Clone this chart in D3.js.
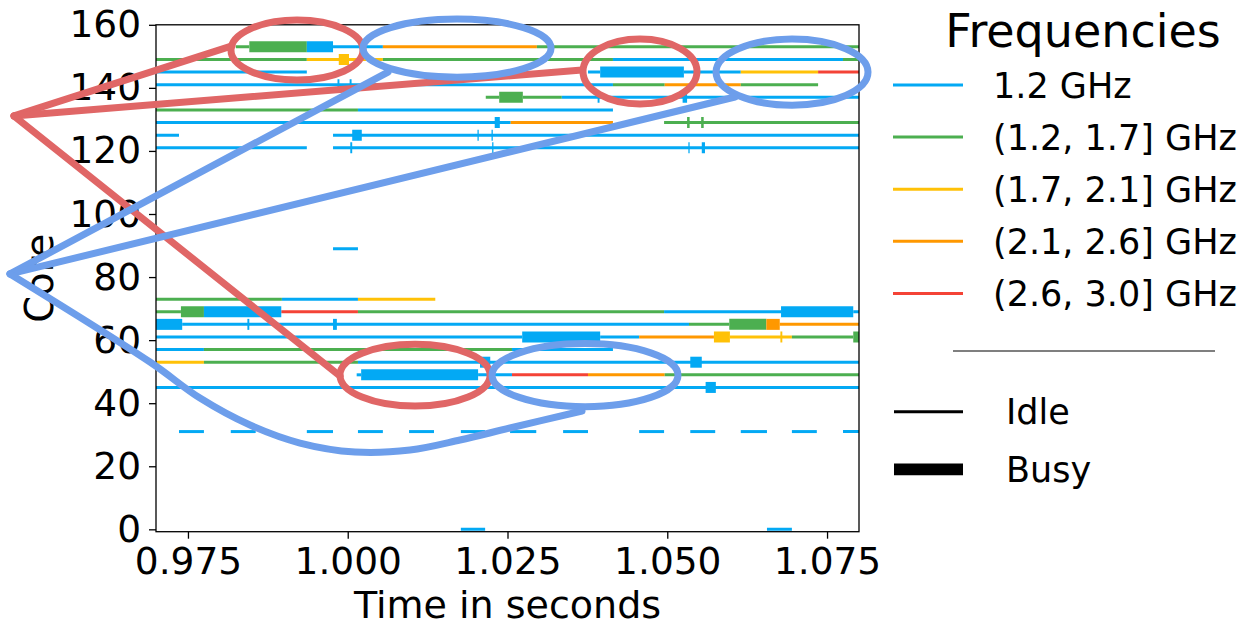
<!DOCTYPE html>
<html>
<head>
<meta charset="utf-8">
<script src="https://cdn.jsdelivr.net/npm/d3@7"></script>
<style>
  body { margin: 0; background: #fff; }
  svg { font-family: "DejaVu Sans", sans-serif; }
</style>
</head>
<body>
<svg id="chart" width="1243" height="626"></svg>
<script>
// frequency bands (legend order)
var bandLabels = ["1.2 GHz", "(1.2, 1.7] GHz", "(1.7, 2.1] GHz", "(2.1, 2.6] GHz", "(2.6, 3.0] GHz"];
var bandColors = ["#03a9f4", "#4caf50", "#ffc107", "#ff9800", "#f44336"];

var xTicks = [0.975, 1.000, 1.025, 1.050, 1.075];
var yTicks = [0, 20, 40, 60, 80, 100, 120, 140, 160];

// [core, start, end, band]
var idleSegments = [
  [153, 0.9825, 0.9846, 1], [153, 0.9977, 1.0055, 0], [153, 1.0055, 1.0296, 3], [153, 1.0296, 1.0850, 1],
  [149, 0.9650, 0.9936, 1], [149, 0.9936, 1.0055, 2], [149, 1.0055, 1.0415, 1], [149, 1.0415, 1.0775, 0], [149, 1.0775, 1.0850, 1],
  [145, 0.9650, 0.9936, 0], [145, 1.0376, 1.0395, 0], [145, 1.0526, 1.0615, 0], [145, 1.0615, 1.0736, 2], [145, 1.0736, 1.0850, 4],
  [141, 0.9650, 1.0415, 0], [141, 1.0415, 1.0496, 1], [141, 1.0496, 1.0615, 3], [141, 1.0615, 1.0736, 1],
  [137, 1.0216, 1.0237, 1], [137, 1.0274, 1.0335, 1], [137, 1.0335, 1.0850, 0],
  [133, 0.9650, 1.0016, 1], [133, 1.0016, 1.0415, 0],
  [129, 0.9650, 1.0255, 0], [129, 1.0255, 1.0415, 3], [129, 1.0495, 1.0850, 1],
  [125, 0.9650, 0.9736, 0], [125, 0.9977, 1.0850, 0],
  [121, 0.9650, 0.9936, 0], [121, 0.9977, 1.0850, 0],
  [89, 0.9977, 1.0016, 0],
  [73, 0.9650, 0.9897, 1], [73, 0.9897, 1.0016, 0], [73, 1.0016, 1.0137, 2],
  [69, 0.9650, 0.9739, 1], [69, 0.9896, 1.0016, 4], [69, 1.0016, 1.0495, 1], [69, 1.0495, 1.0678, 0], [69, 1.0791, 1.0850, 0],
  [65, 0.9741, 1.0534, 0], [65, 1.0534, 1.0597, 1], [65, 1.0676, 1.0850, 3],
  [61, 0.9650, 1.0273, 0], [61, 1.0395, 1.0456, 0], [61, 1.0456, 1.0573, 3], [61, 1.0598, 1.0695, 2], [61, 1.0695, 1.0791, 1],
  [57, 0.9650, 0.9775, 0], [57, 0.9775, 1.0257, 1], [57, 1.0257, 1.0415, 0],
  [53, 0.9650, 0.9775, 2], [53, 0.9775, 1.0016, 1], [53, 1.0016, 1.0850, 0],
  [49, 1.0014, 1.0021, 0], [49, 1.0204, 1.0257, 0], [49, 1.0257, 1.0376, 4], [49, 1.0376, 1.0496, 3], [49, 1.0496, 1.0850, 1],
  [45, 0.9650, 1.0850, 0],
  [31, 0.9736, 0.9775, 0], [31, 0.9817, 0.9856, 0], [31, 0.9936, 0.9977, 0], [31, 1.0016, 1.0055, 0],
  [31, 1.0096, 1.0135, 0], [31, 1.0177, 1.0215, 0], [31, 1.0254, 1.0295, 0], [31, 1.0337, 1.0376, 0],
  [31, 1.0456, 1.0495, 0], [31, 1.0536, 1.0575, 0], [31, 1.0615, 1.0656, 0], [31, 1.0695, 1.0734, 0],
  [31, 1.0775, 1.0850, 0],
  [0, 1.0177, 1.0215, 0], [0, 1.0656, 1.0695, 0]
];

var busySegments = [
  [153, 0.9846, 0.9936, 1], [153, 0.9936, 0.9977, 0],
  [149, 0.9986, 1.0002, 2],
  [145, 1.0395, 1.0526, 0],
  [141, 0.9984, 0.9987, 0], [141, 1.0003, 1.0006, 0],
  [137, 1.0237, 1.0274, 1], [137, 1.0391, 1.0394, 0], [137, 1.0524, 1.0531, 0],
  [129, 1.0230, 1.0238, 0], [129, 1.0531, 1.0535, 1], [129, 1.0553, 1.0557, 1],
  [125, 1.0007, 1.0022, 0], [125, 1.0203, 1.0205, 0], [125, 1.0225, 1.0227, 0],
  [121, 1.0004, 1.0007, 0], [121, 1.0226, 1.0228, 0], [121, 1.0533, 1.0535, 0], [121, 1.0554, 1.0559, 0],
  [69, 0.9739, 0.9775, 1], [69, 0.9775, 0.9896, 0], [69, 1.0678, 1.0791, 0],
  [65, 0.9700, 0.9741, 0], [65, 0.9843, 0.9846, 0], [65, 0.9977, 0.9983, 0], [65, 1.0597, 1.0655, 1], [65, 1.0655, 1.0676, 3],
  [61, 1.0273, 1.0395, 0], [61, 1.0573, 1.0598, 2], [61, 1.0677, 1.0680, 2], [61, 1.0791, 1.0850, 1],
  [53, 1.0207, 1.0223, 0], [53, 1.0536, 1.0554, 0],
  [49, 1.0021, 1.0204, 0],
  [45, 1.0560, 1.0576, 0]
];

// highlight annotations, in data units: [time, core, rxSeconds, ryCores]
var redEllipses = [[0.99206, 152.0, 0.01033, 9.5], [1.04573, 145.2, 0.00892, 10.3], [1.01053, 48.9, 0.01174, 9.8]];
var blueEllipses = [[1.01710, 152.6, 0.01471, 9.2], [1.06952, 145.0, 0.01189, 10.5], [1.03713, 48.9, 0.01455, 10.0]];
var redApex = [0.94778, 131.1];
var redTargets = [[0.98189, 153.3], [1.03666, 145.7], [0.99879, 48.6]];
var blueApex = [0.94716, 81.0];
var blueTargets = [[1.00630, 145.0], [1.06060, 137.1]];
var blueCurve = [[0.94716, 81.0], [0.96906, 53.06], [0.97688, 41.64], [0.98471, 33.08], [0.99253, 27.37],
  [1.00114, 24.52], [1.00974, 25.15], [1.01757, 28.32], [1.02539, 32.13], [1.03666, 37.52]];

var svg = d3.select('#chart');

var x = d3.scaleLinear().domain([0.97, 1.08]).range([156, 859]);
var y = d3.scaleLinear().domain([-0.75, 160]).range([531.7, 24.8]);

svg.append('defs').append('clipPath').attr('id', 'plot-clip')
  .append('rect')
  .attr('x', x(0.97)).attr('y', y(160))
  .attr('width', x(1.08) - x(0.97)).attr('height', y(-0.75) - y(160));

// segments
var data = svg.append('g').attr('clip-path', 'url(#plot-clip)');

data.selectAll('line.idle').data(idleSegments).enter()
  .append('line').attr('class', 'idle')
  .attr('x1', function(d) { return x(d[1]); })
  .attr('x2', function(d) { return x(d[2]); })
  .attr('y1', function(d) { return y(d[0]); })
  .attr('y2', function(d) { return y(d[0]); })
  .attr('stroke', function(d) { return bandColors[d[3]]; })
  .attr('stroke-width', 3);

data.selectAll('line.busy').data(busySegments).enter()
  .append('line').attr('class', 'busy')
  .attr('x1', function(d) { return x(d[1]); })
  .attr('x2', function(d) { return x(d[2]); })
  .attr('y1', function(d) { return y(d[0]); })
  .attr('y2', function(d) { return y(d[0]); })
  .attr('stroke', function(d) { return bandColors[d[3]]; })
  .attr('stroke-width', 11);

// axes
var xAxis = d3.axisBottom(x).tickValues(xTicks).tickFormat(d3.format('.3f'))
  .tickSize(7).tickSizeOuter(0).tickPadding(9);
var yAxis = d3.axisLeft(y).tickValues(yTicks).tickFormat(d3.format('d'))
  .tickSize(7).tickSizeOuter(0).tickPadding(8);

var gx = svg.append('g').attr('transform', 'translate(0,' + y(-0.75) + ')').call(xAxis);
var gy = svg.append('g').attr('transform', 'translate(' + x(0.97) + ',0)').call(yAxis);

[gx, gy].forEach(function(g) {
  g.select('.domain').remove();
  g.selectAll('line').attr('stroke', '#000').attr('stroke-width', 1.3);
  g.selectAll('text').attr('fill', '#000')
    .style('font-family', '"DejaVu Sans", sans-serif').style('font-size', '37.5px');
});

svg.append('rect')
  .attr('x', x(0.97)).attr('y', y(160))
  .attr('width', x(1.08) - x(0.97)).attr('height', y(-0.75) - y(160))
  .attr('fill', 'none').attr('stroke', '#000').attr('stroke-width', 1.3);

svg.append('text')
  .attr('x', (x(0.97) + x(1.08)) / 2).attr('y', 618)
  .attr('text-anchor', 'middle').style('font-size', '38px')
  .text('Time in seconds');

svg.append('text')
  .attr('transform', 'translate(53,' + ((y(160) + y(-0.75)) / 2) + ') rotate(-90)')
  .attr('text-anchor', 'middle').style('font-size', '38.5px')
  .text('Core');

// legend
var legend = svg.append('g');
legend.append('text').attr('x', 1083).attr('y', 46.5).attr('text-anchor', 'middle')
  .style('font-size', '46px').text('Frequencies');

var legendRows = legend.selectAll('g.band').data(bandLabels).enter().append('g')
  .attr('transform', function(d, i) { return 'translate(0,' + (85 + i * 52.1) + ')'; });
legendRows.append('line').attr('x1', 893).attr('x2', 963)
  .attr('stroke', function(d, i) { return bandColors[i]; }).attr('stroke-width', 3);
legendRows.append('text').attr('x', 993).attr('dy', '0.36em')
  .style('font-size', '35px').text(function(d) { return d; });

legend.append('line').attr('x1', 953).attr('x2', 1215).attr('y1', 351).attr('y2', 351)
  .attr('stroke', '#000').attr('stroke-width', 1.2);

var stateRows = [['Idle', 3, 411.7], ['Busy', 11.7, 469.3]];
stateRows.forEach(function(s) {
  legend.append('line').attr('x1', 894).attr('x2', 963).attr('y1', s[2]).attr('y2', s[2])
    .attr('stroke', '#000').attr('stroke-width', s[1]);
  legend.append('text').attr('x', 1006).attr('y', s[2]).attr('dy', '0.36em')
    .style('font-size', '35px').text(s[0]);
});

// highlight overlay
var ann = svg.append('g').attr('fill', 'none').attr('stroke-width', 7);

function drawEllipses(list, color) {
  ann.selectAll(null).data(list).enter().append('ellipse')
    .attr('cx', function(d) { return x(d[0]); })
    .attr('cy', function(d) { return y(d[1]); })
    .attr('rx', function(d) { return x(d[0] + d[2]) - x(d[0]); })
    .attr('ry', function(d) { return y(d[1] - d[3]) - y(d[1]); })
    .attr('stroke', color);
}
function drawLeaders(apex, targets, color) {
  ann.selectAll(null).data(targets).enter().append('line')
    .attr('x1', x(apex[0])).attr('y1', y(apex[1]))
    .attr('x2', function(d) { return x(d[0]); })
    .attr('y2', function(d) { return y(d[1]); })
    .attr('stroke', color).attr('stroke-linecap', 'round');
}

drawEllipses(redEllipses, '#e06666');
drawLeaders(redApex, redTargets, '#e06666');
drawEllipses(blueEllipses, '#6d9eeb');
drawLeaders(blueApex, blueTargets, '#6d9eeb');
ann.append('path')
  .attr('d', d3.line().x(function(d) { return x(d[0]); }).y(function(d) { return y(d[1]); })
    .curve(d3.curveCatmullRom)(blueCurve))
  .attr('stroke', '#6d9eeb').attr('stroke-linecap', 'round');
</script>
</body>
</html>
